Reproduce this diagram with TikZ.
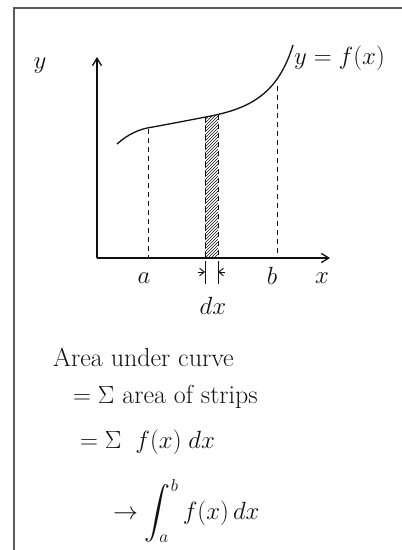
\documentclass[tikz,border=0pt]{standalone}
\usepackage{amsmath,amssymb}
\usepackage{tikz}
\usetikzlibrary{arrows.meta,positioning,patterns}
\definecolor{Ink}{HTML}{111111}
\definecolor{Frame}{HTML}{5A5A5A}
\tikzset{
  axis/.style={-{Straight Barb[length=2.6mm,width=3.2mm]},draw=Ink,line width=1.3pt},
  curve/.style={draw=Ink,line width=1.3pt},
  guide/.style={draw=Ink,line width=1pt,dash pattern=on 5pt off 4pt},
  strip/.style={pattern=north east lines,pattern color=Ink},
  tickarrow/.style={-{Straight Barb[length=1.6mm,width=2.6mm]},draw=Ink,line width=1pt},
  lbl/.style={text=Ink,font=\fontsize{24}{26}\selectfont,inner sep=0pt},
  say/.style={text=Ink,font=\fontsize{26}{28}\selectfont,anchor=west,inner sep=0pt}
}
\begin{document}
\begin{tikzpicture}[x=1pt,y=-1pt]
      \useasboundingbox (0,0) rectangle (402,550);
      \draw[Frame,line width=1.2pt] (14,550) -- (14,8) -- (402,8);
      % axes
      \coordinate (O) at (97,258);
      \coordinate (ytop) at (97,57);
      \coordinate (xend) at (330,258);
      \draw[axis] (O) -- (ytop);
      \draw[axis] (O) -- (xend);
      % strip under the curve
      \coordinate (s1) at (205,117);
      \coordinate (s2) at (218,115);
      \fill[strip] (205,258) -- (s1) -- (s2) -- (218,258) -- cycle;
      \draw[guide] (s1) -- (205,258);
      \draw[guide] (s2) -- (218,258);
      % the curve
      \draw[curve] (117,144) .. controls (128,134) and (140,129) .. (150,127.5)
        .. controls (175,123) and (195,119) .. (211,116)
        .. controls (250,108) and (278,94) .. (293,45);
      \draw[guide] (148,129) -- (148,258);
      \draw[guide] (277,86) -- (277,258);
      % labels
      \node[lbl,font=\fontsize{28}{30}\selectfont] (ylab) at (40,66) {$y$};
      \node[lbl,anchor=west,font=\fontsize{25}{28}\selectfont] (fx) at (294,58) {$y = f(x)$};
      \node[lbl] (a) at (144,278) {$a$};
      \node[lbl] (b) at (272,276) {$b$};
      \node[lbl] (xlab) at (322,278) {$x$};
      \coordinate (dl) at (205,272);
      \coordinate (dr) at (218,272);
      \draw[Ink,line width=1pt] (205,261) -- (205,284) (218,261) -- (218,284);
      \draw[tickarrow] (198,272) -- (dl);
      \draw[tickarrow] (225,272) -- (dr);
      \node[lbl] (dx) at (213,306) {$dx$};
      % the working
      \node[say] (l1) at (53,357) {Area under curve};
      \node[say] (l2) at (73,397) {$=\Sigma$ area of strips};
      \node[say] (l3) at (80,442) {$=\Sigma\;\; f(x)\;dx$};
      \node[say] (l4) at (113,511) {$\rightarrow \displaystyle\int_a^b f(x)\,dx$};
    \end{tikzpicture}
\end{document}
